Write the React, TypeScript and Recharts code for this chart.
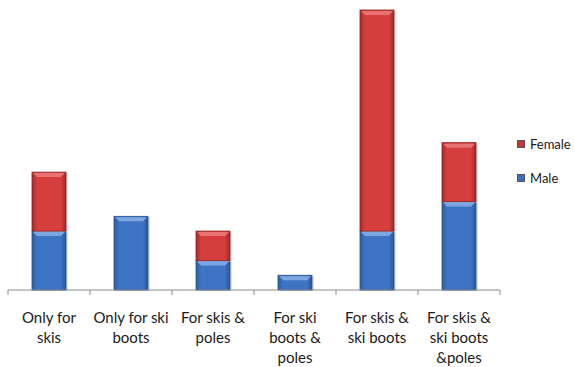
import { BarChart, Bar, XAxis, YAxis } from 'recharts';

const categories = [
  'Only for\nskis',
  'Only for ski\nboots',
  'For skis &\npoles',
  'For ski\nboots &\npoles',
  'For skis &\nski boots',
  'For skis &\nski boots\n&poles',
];
const maleValues = [4, 5, 2, 1, 4, 6];
const femaleValues = [4, 0, 2, 0, 15, 4];

const data = categories.map((name, i) => ({ name, Male: maleValues[i], Female: femaleValues[i] }));

const BAND = 82;

// x tick: wrapped label plus tick marks at category boundaries
function CategoryTick({ x, y, payload, index }: any) {
  const lines = String(payload.value).split('\n');
  return (
    <g>
      <line x1={x - BAND / 2} y1={y - 8} x2={x - BAND / 2} y2={y - 3} stroke="#8c8c8c" />
      {index === categories.length - 1 && (
        <line x1={x + BAND / 2} y1={y - 8} x2={x + BAND / 2} y2={y - 3} stroke="#8c8c8c" />
      )}
      <text x={x} y={y + 25} textAnchor="middle" fill="#1a1a1a" fontSize={15} fontFamily="Lato, sans-serif">
        {lines.map((l, i) => (
          <tspan key={i} x={x} dy={i === 0 ? 0 : 20}>{l}</tspan>
        ))}
      </text>
    </g>
  );
}

// beveled bar segment like the old office look
function BevelBar(props: any) {
  const { x, y, width, height, fill } = props;
  if (!height || height <= 0) return null;
  const light = fill === 'url(#blueGrad)' ? '#8fb4e8' : '#ee8080';
  const edge = fill === 'url(#blueGrad)' ? '#24518f' : '#8f2222';
  return (
    <g>
      <rect x={x + 2} y={y + 1} width={width} height={height} fill="#cfcfcf" opacity={0.6} />
      <rect x={x} y={y} width={width} height={height} fill={fill} stroke={edge} strokeWidth={0.8} />
      <polygon
        points={`${x + 1},${y + 1} ${x + width - 1},${y + 1} ${x + width - 5},${y + 5} ${x + 5},${y + 5}`}
        fill={light}
        opacity={0.8}
      />
    </g>
  );
}

export default function App() {
  return (
    <div style={{ position: 'absolute', left: 0, top: 0, width: 575, height: 367, background: '#fff' }}>
      <BarChart
        width={575}
        height={367}
        data={data}
        margin={{ top: 10, right: 75, left: 8, bottom: 0 }}
        barCategoryGap={24}
      >
        <defs>
          <linearGradient id="blueGrad" x1="0" y1="0" x2="1" y2="0">
            <stop offset="0%" stopColor="#2c5da3" />
            <stop offset="15%" stopColor="#3e74c4" />
            <stop offset="85%" stopColor="#3e74c4" />
            <stop offset="100%" stopColor="#2a5597" />
          </linearGradient>
          <linearGradient id="redGrad" x1="0" y1="0" x2="1" y2="0">
            <stop offset="0%" stopColor="#a62c2c" />
            <stop offset="15%" stopColor="#d63e3e" />
            <stop offset="85%" stopColor="#d63e3e" />
            <stop offset="100%" stopColor="#9e2828" />
          </linearGradient>
        </defs>
        <XAxis
          dataKey="name"
          interval={0}
          height={77}
          tickLine={false}
          axisLine={{ stroke: '#8c8c8c' }}
          tick={<CategoryTick />}
        />
        <YAxis hide domain={[0, 19]} />
        <Bar dataKey="Male" stackId="a" fill="url(#blueGrad)" shape={<BevelBar />} isAnimationActive={false} />
        <Bar dataKey="Female" stackId="a" fill="url(#redGrad)" shape={<BevelBar />} isAnimationActive={false} />
      </BarChart>
      <div style={{ position: 'absolute', left: 517, top: 135, fontFamily: 'Lato, sans-serif', fontSize: 13, color: '#1a1a1a' }}>
        {[
          { name: 'Female', color: '#c83434' },
          { name: 'Male', color: '#3a6fbe' },
        ].map((item) => (
          <div key={item.name} style={{ display: 'flex', alignItems: 'center', height: 18, marginBottom: 16 }}>
            <span style={{ width: 8, height: 8, background: item.color, border: '1px solid #555', marginRight: 5, boxSizing: 'border-box' }} />
            <span>{item.name}</span>
          </div>
        ))}
      </div>
    </div>
  );
}
